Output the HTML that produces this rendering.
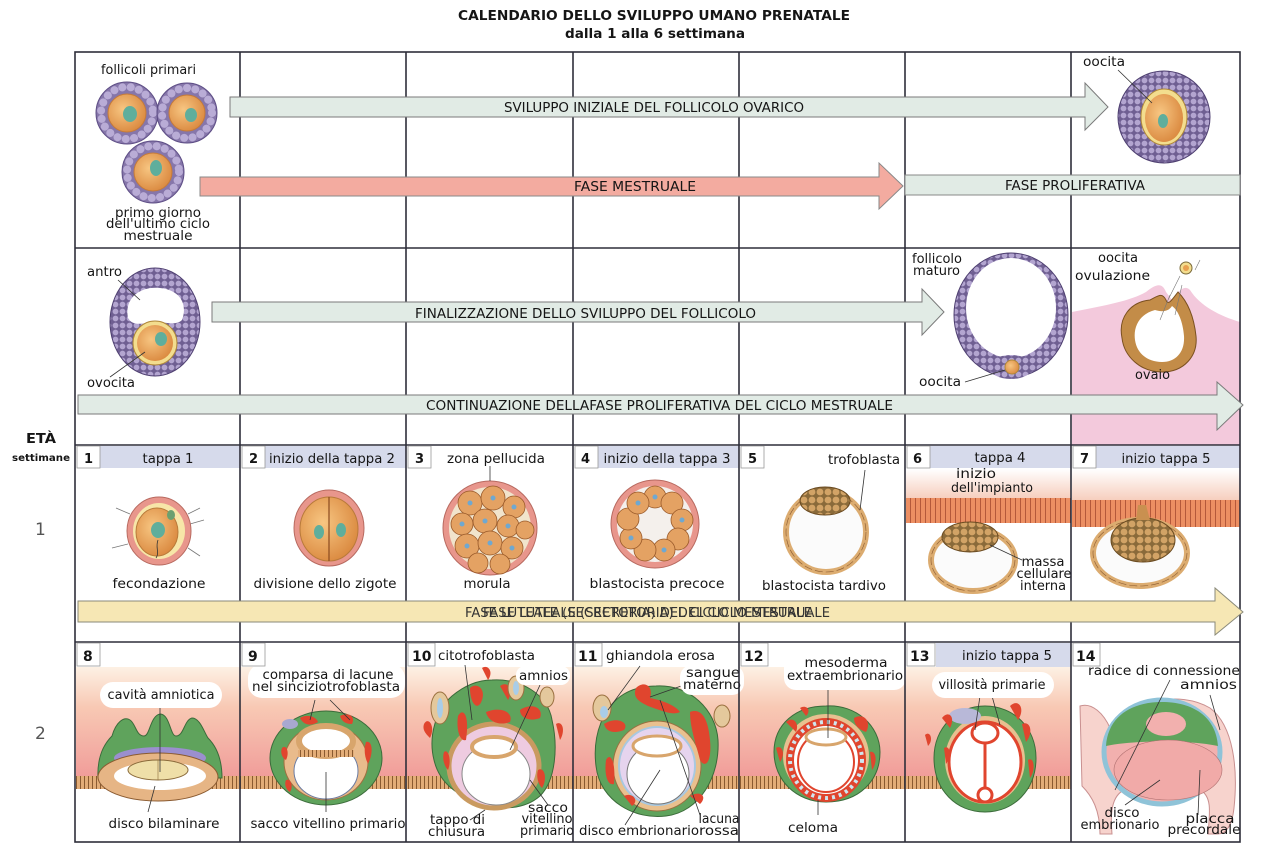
<!DOCTYPE html>
<html><head><meta charset="utf-8">
<style>
html,body{margin:0;padding:0;background:#fff;}
svg{display:block;}
text{font-family:"DejaVu Sans","Liberation Sans",sans-serif;font-size:13px;fill:#151515;}
.b{font-weight:bold;}
.ln{stroke:#333;stroke-width:0.8;fill:none;}
</style></head><body>
<svg width="1276" height="850" viewBox="0 0 1276 850" xmlns="http://www.w3.org/2000/svg">
<defs>
 <pattern id="gran" width="7" height="7" patternUnits="userSpaceOnUse">
   <rect width="7" height="7" fill="#6f5f92"/>
   <circle cx="3.5" cy="3.5" r="2.9" fill="#b3a5d0"/>
 </pattern>
 <pattern id="endo" width="5" height="40" patternUnits="userSpaceOnUse">
   <rect width="5" height="40" fill="#ec8e62"/>
   <rect width="1" height="40" fill="#b4583a"/>
   <circle cx="2.8" cy="14" r="1" fill="#6aa070"/>
 </pattern>
 <pattern id="epi" width="4" height="20" patternUnits="userSpaceOnUse">
   <rect width="4" height="20" fill="#e3ad78"/>
   <rect width="1" height="20" fill="#8a5a30"/>
 </pattern>
 <pattern id="icm" width="8" height="8" patternUnits="userSpaceOnUse">
   <rect width="8" height="8" fill="#8a6a3a"/>
   <circle cx="4" cy="4" r="3.4" fill="#d2a366"/>
 </pattern>
 <linearGradient id="pinkbg" x1="0" y1="0" x2="0" y2="1">
   <stop offset="0" stop-color="#fdf1e4"/>
   <stop offset="0.35" stop-color="#f8c9b4"/>
   <stop offset="1" stop-color="#f09a98"/>
 </linearGradient>
 <linearGradient id="topw" x1="0" y1="0" x2="0" y2="1">
   <stop offset="0" stop-color="#ffffff"/>
   <stop offset="1" stop-color="#f6cdbc"/>
 </linearGradient>
 <radialGradient id="oo" cx="0.4" cy="0.4" r="0.7">
   <stop offset="0" stop-color="#f7c682"/>
   <stop offset="1" stop-color="#d8843a"/>
 </radialGradient>
</defs>

<!-- Title -->
<text x="458" y="20" class="b" textLength="392" lengthAdjust="spacingAndGlyphs">CALENDARIO DELLO SVILUPPO UMANO PRENATALE</text>
<text x="565" y="38" class="b" textLength="180" lengthAdjust="spacingAndGlyphs">dalla 1 alla 6 settimana</text>

<!-- Left labels -->
<text x="26" y="443" class="b" textLength="30" lengthAdjust="spacingAndGlyphs">ETÀ</text>
<text x="12" y="461" class="b" style="font-size:10px" textLength="58" lengthAdjust="spacingAndGlyphs">settimane</text>
<text x="35" y="535" style="font-size:17px;fill:#555">1</text>
<text x="35" y="739" style="font-size:17px;fill:#555">2</text>

<!-- ===== Row B cell 7 pink ovary background ===== -->
<path d="M1072 312 C1100 306 1128 302 1146 292 C1156 284 1162 282 1166 292 L1172 300 C1178 292 1184 284 1190 290 C1200 306 1220 316 1240 322 V445 H1072 Z" fill="#f3c9dc"/>

<!-- ===== Week 1 headers ===== -->
<rect x="100" y="446" width="140" height="22" fill="#d6daeb"/>
<rect x="265" y="446" width="141" height="22" fill="#d6daeb"/>
<rect x="598" y="446" width="141" height="22" fill="#d6daeb"/>
<rect x="930" y="446" width="141" height="22" fill="#d6daeb"/>
<rect x="1096" y="446" width="144" height="22" fill="#d6daeb"/>

<!-- Week 1 cell 6/7 implantation background -->
<rect x="906" y="469" width="165" height="30" fill="url(#topw)"/>
<rect x="906" y="498" width="165" height="25" fill="url(#endo)"/>
<rect x="1072" y="469" width="168" height="32" fill="url(#topw)"/>
<rect x="1072" y="500" width="168" height="27" fill="url(#endo)"/>

<!-- ===== Week 2 backgrounds ===== -->
<rect x="76" y="667" width="995" height="114" fill="url(#pinkbg)"/>
<rect x="76" y="776" width="995" height="13" fill="url(#epi)"/>
<rect x="936" y="643" width="135" height="24" fill="#d6daeb"/>

<!-- ===== Row A figures ===== -->
<g>
 <circle cx="127" cy="113" r="31" fill="#8676aa" stroke="#5d4d85"/>
 <circle cx="127" cy="113" r="26" fill="none" stroke="#b9acd6" stroke-width="8" stroke-dasharray="0.1 8.3" stroke-linecap="round"/>
 <circle cx="127" cy="113" r="19" fill="url(#oo)" stroke="#c47a3a"/>
 <ellipse cx="130" cy="114" rx="7" ry="8" fill="#5fae9c"/>
 <circle cx="187" cy="113" r="30" fill="#8676aa" stroke="#5d4d85"/>
 <circle cx="187" cy="113" r="25" fill="none" stroke="#b9acd6" stroke-width="8" stroke-dasharray="0.1 8.3" stroke-linecap="round"/>
 <circle cx="187" cy="113" r="18" fill="url(#oo)" stroke="#c47a3a"/>
 <ellipse cx="191" cy="115" rx="6" ry="7" fill="#5fae9c"/>
 <circle cx="153" cy="172" r="31" fill="#8676aa" stroke="#5d4d85"/>
 <circle cx="153" cy="172" r="26" fill="none" stroke="#b9acd6" stroke-width="8" stroke-dasharray="0.1 8.3" stroke-linecap="round"/>
 <circle cx="153" cy="172" r="19" fill="url(#oo)" stroke="#c47a3a"/>
 <ellipse cx="156" cy="168" rx="6" ry="8" fill="#5fae9c"/>
</g>
<text x="101" y="74" textLength="95" lengthAdjust="spacingAndGlyphs">follicoli primari</text>
<text x="158" y="217" text-anchor="middle" textLength="86" lengthAdjust="spacingAndGlyphs">primo giorno</text>
<text x="158" y="228" text-anchor="middle" textLength="104" lengthAdjust="spacingAndGlyphs">dell'ultimo ciclo</text>
<text x="158" y="240" text-anchor="middle" textLength="69" lengthAdjust="spacingAndGlyphs">mestruale</text>

<!-- big follicle cell 7 row A -->
<ellipse cx="1164" cy="117" rx="46" ry="46" fill="url(#gran)" stroke="#4e3f70"/>
<ellipse cx="1164" cy="117" rx="23" ry="28" fill="#f3dd8e" stroke="#b0883a"/>
<ellipse cx="1164" cy="118" rx="19" ry="24" fill="url(#oo)"/>
<ellipse cx="1163" cy="121" rx="5" ry="7" fill="#5fae9c"/>
<path class="ln" d="M1118 70 L1152 103"/>
<text x="1083" y="66" textLength="42" lengthAdjust="spacingAndGlyphs">oocita</text>

<!-- ===== Row B figures ===== -->
<ellipse cx="155" cy="322" rx="45" ry="54" fill="url(#gran)" stroke="#4e3f70"/>
<path d="M128 318 C124 298 140 286 160 288 C180 290 188 304 182 320 C176 326 166 322 155 322 C145 322 134 328 128 318 Z" fill="#fff"/>
<ellipse cx="155" cy="343" rx="22" ry="22" fill="#f3dd8e" stroke="#b0883a"/>
<ellipse cx="155" cy="343" rx="18" ry="18" fill="url(#oo)"/>
<ellipse cx="161" cy="339" rx="6" ry="7" fill="#5fae9c"/>
<path class="ln" d="M118 280 L140 300"/>
<path class="ln" d="M110 377 L145 352"/>
<text x="87" y="276" textLength="35" lengthAdjust="spacingAndGlyphs">antro</text>
<text x="87" y="387" textLength="48" lengthAdjust="spacingAndGlyphs">ovocita</text>

<!-- mature follicle -->
<ellipse cx="1011" cy="315" rx="57" ry="62" fill="url(#gran)" stroke="#4e3f70"/>
<ellipse cx="1011" cy="308" rx="45" ry="50" fill="#fff"/>
<ellipse cx="1011" cy="367" rx="22" ry="12" fill="url(#gran)"/>
<circle cx="1012" cy="367" r="7" fill="url(#oo)" stroke="#b0883a"/>
<path class="ln" d="M965 382 L1005 370"/>
<text x="912" y="263" textLength="50" lengthAdjust="spacingAndGlyphs">follicolo</text>
<text x="913" y="275" textLength="47" lengthAdjust="spacingAndGlyphs">maturo</text>
<text x="919" y="386" textLength="42" lengthAdjust="spacingAndGlyphs">oocita</text>

<!-- ovulation -->
<path d="M1150 300 C1130 302 1118 318 1122 338 C1124 356 1140 372 1162 372 C1184 372 1198 356 1196 336 C1194 318 1188 302 1178 292 C1172 300 1168 306 1166 300 C1162 292 1158 296 1150 300 Z" fill="#c38c48" stroke="#7a5020"/>
<path d="M1155 310 C1140 314 1133 326 1135 340 C1137 354 1148 362 1162 362 C1176 362 1185 352 1184 336 C1183 322 1178 310 1172 306 C1168 312 1162 312 1155 310 Z" fill="#fff"/>
<circle cx="1186" cy="268" r="6" fill="#f3dd8e" stroke="#7a6a3a"/>
<circle cx="1186" cy="268" r="3" fill="#e8a050"/>
<path d="M1168 300 L1180 276 M1160 320 L1170 295 M1175 315 L1182 285 M1195 270 L1200 260" stroke="#777" stroke-width="0.6" fill="none"/>
<text x="1098" y="262" textLength="40" lengthAdjust="spacingAndGlyphs">oocita</text>
<text x="1075" y="280" textLength="75" lengthAdjust="spacingAndGlyphs">ovulazione</text>
<text x="1135" y="379" textLength="35" lengthAdjust="spacingAndGlyphs">ovaio</text>

<!-- ===== Week 1 figures ===== -->
<!-- cell 1 zygote -->
<path d="M116 508 L130 514 M112 548 L128 544 M200 508 L188 514 M204 520 L190 524 M200 556 L188 548 M172 500 L170 508" stroke="#777" stroke-width="0.8"/>
<ellipse cx="159" cy="531" rx="32" ry="34" fill="#e8968c" stroke="#b86a60"/>
<ellipse cx="159" cy="531" rx="26" ry="28" fill="#f7e6a8"/>
<ellipse cx="157" cy="532" rx="21" ry="24" fill="url(#oo)" stroke="#b87a3a"/>
<ellipse cx="158" cy="530" rx="7" ry="8" fill="#5fae9c"/>
<ellipse cx="171" cy="515" rx="4" ry="5" fill="#6aa070"/>
<path d="M158 540 C155 548 160 552 156 558" stroke="#333" stroke-width="0.8" fill="none"/>
<text x="159" y="588" text-anchor="middle" textLength="93" lengthAdjust="spacingAndGlyphs">fecondazione</text>

<!-- cell 2 two-cell -->
<ellipse cx="329" cy="528" rx="35" ry="38" fill="#e8968c" stroke="#b86a60"/>
<ellipse cx="329" cy="529" rx="29" ry="32" fill="url(#oo)" stroke="#b87a3a"/>
<line x1="329" y1="497" x2="329" y2="561" stroke="#8a4a20" stroke-width="1.2"/>
<ellipse cx="319" cy="532" rx="5" ry="7" fill="#5fae9c"/>
<ellipse cx="341" cy="530" rx="5" ry="7" fill="#5fae9c"/>
<text x="325" y="588" text-anchor="middle" textLength="143" lengthAdjust="spacingAndGlyphs">divisione dello zigote</text>

<!-- cell 3 morula -->
<circle cx="490" cy="528" r="47" fill="#e8968c" stroke="#b86a60"/>
<circle cx="490" cy="528" r="41" fill="#f1e4cc"/>
<g fill="#e4a263" stroke="#9a5a2a" stroke-width="0.8">
 <circle cx="470" cy="503" r="12"/><circle cx="493" cy="498" r="12"/><circle cx="514" cy="507" r="11"/>
 <circle cx="462" cy="524" r="11"/><circle cx="485" cy="521" r="12"/><circle cx="508" cy="526" r="11"/>
 <circle cx="525" cy="530" r="9"/><circle cx="467" cy="546" r="12"/><circle cx="490" cy="543" r="12"/>
 <circle cx="512" cy="548" r="11"/><circle cx="478" cy="563" r="10"/><circle cx="500" cy="564" r="10"/>
</g>
<g fill="#6fa8d0">
 <circle cx="470" cy="503" r="2.5"/><circle cx="493" cy="498" r="2.5"/><circle cx="514" cy="507" r="2.5"/>
 <circle cx="462" cy="524" r="2.5"/><circle cx="485" cy="521" r="2.5"/><circle cx="508" cy="526" r="2.5"/>
 <circle cx="467" cy="546" r="2.5"/><circle cx="490" cy="543" r="2.5"/><circle cx="512" cy="548" r="2.5"/>
</g>
<line x1="490" y1="466" x2="490" y2="481" class="ln"/>
<text x="496" y="463" text-anchor="middle" textLength="98" lengthAdjust="spacingAndGlyphs">zona pellucida</text>
<text x="487" y="588" text-anchor="middle" textLength="47" lengthAdjust="spacingAndGlyphs">morula</text>

<!-- cell 4 early blastocyst -->
<circle cx="655" cy="524" r="44" fill="#e8968c" stroke="#b86a60"/>
<circle cx="655" cy="524" r="38" fill="#f4f0ec"/>
<g fill="#e4a263" stroke="#9a5a2a" stroke-width="0.8">
 <circle cx="655" cy="497" r="11"/><circle cx="672" cy="503" r="11"/><circle cx="682" cy="520" r="11"/>
 <circle cx="678" cy="539" r="11"/><circle cx="664" cy="550" r="11"/><circle cx="645" cy="550" r="11"/>
 <circle cx="631" cy="538" r="11"/><circle cx="628" cy="519" r="11"/><circle cx="638" cy="503" r="11"/>
</g>
<g fill="#6fa8d0">
 <circle cx="655" cy="497" r="2.5"/><circle cx="682" cy="520" r="2.5"/><circle cx="664" cy="550" r="2.5"/><circle cx="631" cy="538" r="2.5"/><circle cx="638" cy="503" r="2.5"/>
</g>
<text x="657" y="588" text-anchor="middle" textLength="135" lengthAdjust="spacingAndGlyphs">blastocista precoce</text>

<!-- cell 5 late blastocyst -->
<ellipse cx="826" cy="532" rx="40" ry="40" fill="#fbfbfb" stroke="#dcac70" stroke-width="6"/>
<ellipse cx="826" cy="532" rx="40" ry="40" fill="none" stroke="#8a5a30" stroke-width="0.6" stroke-dasharray="8 3"/>
<ellipse cx="825" cy="501" rx="25" ry="14" fill="url(#icm)" stroke="#6a4a20"/>
<path class="ln" d="M865 470 L860 510"/>
<text x="828" y="464" textLength="72" lengthAdjust="spacingAndGlyphs">trofoblasta</text>
<text x="824" y="590" text-anchor="middle" textLength="124" lengthAdjust="spacingAndGlyphs">blastocista tardivo</text>

<!-- cell 6 implantation -->
<ellipse cx="973" cy="560" rx="42" ry="31" fill="#fbfbfb" stroke="#dcac70" stroke-width="6"/>
<ellipse cx="973" cy="560" rx="42" ry="31" fill="none" stroke="#8a5a30" stroke-width="0.6" stroke-dasharray="8 3"/>
<ellipse cx="970" cy="537" rx="28" ry="15" fill="url(#icm)" stroke="#6a4a20"/>
<path class="ln" d="M990 545 L1022 560"/>
<text x="976" y="478" text-anchor="middle" textLength="40" lengthAdjust="spacingAndGlyphs">inizio</text>
<text x="992" y="492" text-anchor="middle" textLength="82" lengthAdjust="spacingAndGlyphs">dell'impianto</text>
<text x="1043" y="566" text-anchor="middle" textLength="43" lengthAdjust="spacingAndGlyphs">massa</text>
<text x="1044" y="578" text-anchor="middle" textLength="55" lengthAdjust="spacingAndGlyphs">cellulare</text>
<text x="1043" y="590" text-anchor="middle" textLength="46" lengthAdjust="spacingAndGlyphs">interna</text>

<!-- cell 7 -->
<ellipse cx="1140" cy="553" rx="47" ry="33" fill="#fbfbfb" stroke="#dcac70" stroke-width="6"/>
<ellipse cx="1140" cy="553" rx="47" ry="33" fill="none" stroke="#8a5a30" stroke-width="0.6" stroke-dasharray="8 3"/>
<ellipse cx="1143" cy="540" rx="32" ry="22" fill="url(#icm)" stroke="#6a4a20"/>
<path d="M1136 520 L1138 505 L1146 505 L1150 520 Z" fill="#c99050"/>

<!-- ===== Week 2 figures ===== -->
<!-- cell 8 -->
<path d="M98 778 C97 756 104 744 112 736 C116 722 124 716 130 720 C136 724 136 736 144 736 C150 736 150 716 160 714 C170 714 170 736 176 736 C184 736 184 720 192 718 C200 718 204 732 208 738 C216 746 222 758 222 778 Z" fill="#5fa35c" stroke="#3b6b3a"/>
<ellipse cx="160" cy="758" rx="46" ry="11" fill="#9b8fcf"/>
<ellipse cx="158" cy="777" rx="60" ry="24" fill="#e6b585" stroke="#8a5a30"/>
<ellipse cx="160" cy="776" rx="46" ry="14" fill="#fff"/>
<ellipse cx="158" cy="770" rx="30" ry="10" fill="#efdfa8" stroke="#8a6a3a"/>
<line x1="158" y1="760" x2="158" y2="780" stroke="#8a6a3a" stroke-width="0.6"/>
<path class="ln" d="M160 706 L160 772 M155 786 L148 812"/>
<rect x="100" y="682" width="122" height="26" rx="13" fill="#fff"/>
<text x="161" y="699" text-anchor="middle" textLength="107" lengthAdjust="spacingAndGlyphs">cavità amniotica</text>
<text x="164" y="828" text-anchor="middle" textLength="111" lengthAdjust="spacingAndGlyphs">disco bilaminare</text>

<!-- cell 9 -->
<ellipse cx="326" cy="758" rx="56" ry="47" fill="#5fa35c" stroke="#3b6b3a"/>
<ellipse cx="326" cy="762" rx="42" ry="38" fill="#e9bb8c" stroke="#a07040"/>
<ellipse cx="326" cy="771" rx="32" ry="28" fill="#fff" stroke="#6a7aa0"/>
<ellipse cx="326" cy="741" rx="27" ry="15" fill="#fff" stroke="#d8a56c" stroke-width="6"/>
<rect x="298" y="750" width="56" height="7" fill="url(#epi)"/>
<g fill="#e0452e">
 <path d="M300 718 C306 714 316 716 318 722 C312 726 304 726 300 718 Z"/>
 <path d="M340 716 C348 712 356 716 352 724 C346 724 342 722 340 716 Z"/>
 <path d="M282 748 C286 744 290 752 286 760 C282 758 280 752 282 748 Z"/>
 <path d="M366 742 C372 740 374 752 368 764 C364 756 364 748 366 742 Z"/>
 <path d="M286 780 C290 778 294 786 290 792 C286 790 284 784 286 780 Z"/>
</g>
<ellipse cx="290" cy="724" rx="8" ry="5" fill="#a8a8d0"/>
<path class="ln" d="M315 700 L310 720 M330 700 L350 720 M326 772 L326 812"/>
<rect x="248" y="664" width="157" height="34" rx="14" fill="#fff"/>
<text x="328" y="679" text-anchor="middle" textLength="131" lengthAdjust="spacingAndGlyphs">comparsa di lacune</text>
<text x="326" y="691" text-anchor="middle" textLength="148" lengthAdjust="spacingAndGlyphs">nel sinciziotrofoblasta</text>
<text x="328" y="828" text-anchor="middle" textLength="155" lengthAdjust="spacingAndGlyphs">sacco vitellino primario</text>

<!-- cell 10 -->
<path d="M492 680 C520 678 548 694 552 720 C558 746 556 780 540 796 C524 810 500 810 484 804 C462 798 440 786 434 760 C428 736 436 710 452 696 C464 686 478 680 492 680 Z" fill="#5fa35c" stroke="#3b6b3a"/>
<ellipse cx="494" cy="766" rx="45" ry="42" fill="#eecbe0" stroke="#c99a60" stroke-width="5"/>
<ellipse cx="496" cy="774" rx="34" ry="31" fill="#fff" stroke="#888"/>
<ellipse cx="494" cy="747" rx="22" ry="10" fill="#fff" stroke="#d8a56c" stroke-width="4"/>
<g fill="#e0452e">
 <path d="M470 688 C476 682 486 688 482 700 C478 712 470 704 470 688 Z"/>
 <path d="M500 686 C508 680 514 690 508 700 Z"/>
 <path d="M520 710 C532 702 544 708 540 718 C530 722 520 718 520 710 Z"/>
 <path d="M458 716 C462 708 470 712 466 740 C460 742 456 730 458 716 Z"/>
 <path d="M486 712 C500 706 514 712 510 722 C500 726 488 722 486 712 Z"/>
 <path d="M444 752 C448 748 452 760 448 770 C444 766 442 758 444 752 Z"/>
 <path d="M538 770 C544 766 548 778 542 788 C538 784 536 776 538 770 Z"/>
 <path d="M424 724 C428 716 436 726 430 738 C426 734 422 730 424 724 Z"/>
 <path d="M556 724 C562 720 566 730 560 740 Z"/>
 <path d="M482 668 C488 664 494 672 488 680 Z"/>
</g>
<ellipse cx="440" cy="708" rx="9" ry="16" fill="#e4c89c" stroke="#9a7040"/>
<ellipse cx="440" cy="708" rx="3" ry="10" fill="#a9cde8"/>
<ellipse cx="516" cy="688" rx="8" ry="12" fill="#e4c89c" stroke="#9a7040"/>
<ellipse cx="516" cy="688" rx="3" ry="7" fill="#a9cde8"/>
<ellipse cx="547" cy="697" rx="7" ry="10" fill="#e4c89c" stroke="#9a7040"/>
<path class="ln" d="M465 665 L472 720 M540 685 L510 750 M485 810 L470 820 M530 780 L548 805"/>
<text x="438" y="660" textLength="97" lengthAdjust="spacingAndGlyphs">citotrofoblasta</text>
<rect x="516" y="666" width="54" height="19" rx="9" fill="#fff"/>
<text x="519" y="680" textLength="49" lengthAdjust="spacingAndGlyphs">amnios</text>
<text x="430" y="824" textLength="55" lengthAdjust="spacingAndGlyphs">tappo di</text>
<text x="428" y="836" textLength="57" lengthAdjust="spacingAndGlyphs">chiusura</text>
<text x="548" y="812" text-anchor="middle" textLength="40" lengthAdjust="spacingAndGlyphs">sacco</text>
<text x="547" y="823" text-anchor="middle" textLength="51" lengthAdjust="spacingAndGlyphs">vitellino</text>
<text x="547" y="835" text-anchor="middle" textLength="54" lengthAdjust="spacingAndGlyphs">primario</text>

<!-- cell 11 -->
<path d="M656 686 C690 684 716 710 718 740 C720 776 700 812 666 816 C636 820 600 802 596 766 C592 734 604 706 624 694 C634 688 646 686 656 686 Z" fill="#5fa35c" stroke="#3b6b3a"/>
<ellipse cx="657" cy="766" rx="44" ry="45" fill="#e9c08e" stroke="#9a7040" stroke-width="1"/>
<ellipse cx="657" cy="766" rx="38" ry="39" fill="#e6d4ee" stroke="#a8c8e0" stroke-width="2"/>
<ellipse cx="658" cy="774" rx="31" ry="30" fill="#fff" stroke="#777"/>
<ellipse cx="657" cy="746" rx="24" ry="10" fill="#fff" stroke="#d8a56c" stroke-width="3"/>
<g fill="#e0452e">
 <path d="M636 688 C644 680 654 686 650 698 C660 700 674 704 680 712 C672 716 660 710 648 706 C640 702 632 698 636 688 Z"/>
 <path d="M604 724 C616 716 630 722 624 730 C614 734 606 732 604 724 Z"/>
 <path d="M690 712 C700 708 708 716 710 740 C712 760 706 770 700 760 C696 744 690 728 690 712 Z"/>
 <path d="M606 760 C610 752 616 760 614 784 C608 786 604 776 606 760 Z"/>
 <path d="M624 796 C632 792 640 800 632 806 Z"/>
 <path d="M690 796 C700 790 708 796 700 804 Z"/>
</g>
<ellipse cx="602" cy="708" rx="9" ry="13" fill="#e4c89c" stroke="#9a7040"/>
<ellipse cx="604" cy="712" rx="4" ry="6" fill="#a9cde8"/>
<ellipse cx="722" cy="716" rx="8" ry="11" fill="#e4c89c" stroke="#9a7040"/>
<path class="ln" d="M640 666 L608 710 M684 685 L650 697 M660 700 L700 815 M660 770 L625 825"/>
<text x="606" y="660" textLength="109" lengthAdjust="spacingAndGlyphs">ghiandola erosa</text>
<rect x="680" y="665" width="64" height="30" rx="12" fill="#fff"/>
<text x="713" y="677" text-anchor="middle" textLength="54" lengthAdjust="spacingAndGlyphs">sangue</text>
<text x="712" y="689" text-anchor="middle" textLength="58" lengthAdjust="spacingAndGlyphs">materno</text>
<text x="579" y="835" textLength="120" lengthAdjust="spacingAndGlyphs">disco embrionario</text>
<text x="719" y="823" text-anchor="middle" textLength="41" lengthAdjust="spacingAndGlyphs">lacuna</text>
<text x="719" y="835" text-anchor="middle" textLength="40" lengthAdjust="spacingAndGlyphs">rossa</text>

<!-- cell 12 -->
<path d="M826 706 C856 704 880 726 880 752 C880 780 860 802 826 802 C796 802 774 780 774 752 C774 724 796 706 826 706 Z" fill="#5fa35c" stroke="#3b6b3a"/>
<ellipse cx="826" cy="756" rx="43" ry="42" fill="#e8c090"/>
<ellipse cx="826" cy="760" rx="36" ry="38" fill="#fff" stroke="#e0452e" stroke-width="8"/>
<ellipse cx="826" cy="760" rx="36" ry="38" fill="none" stroke="#cfe6ef" stroke-width="4" stroke-dasharray="3 4"/>
<ellipse cx="826" cy="762" rx="28" ry="30" fill="#fff" stroke="#e0452e" stroke-width="2"/>
<ellipse cx="826" cy="737" rx="20" ry="8" fill="#fff" stroke="#d8a56c" stroke-width="3"/>
<g fill="#e0452e">
 <path d="M786 722 C792 716 800 722 796 732 Z"/>
 <path d="M854 718 C864 712 872 722 866 732 C860 730 854 726 854 718 Z"/>
 <path d="M776 748 C782 744 786 754 780 762 Z"/>
 <path d="M870 752 C876 750 878 762 872 770 Z"/>
 <path d="M800 708 C806 704 812 710 806 716 Z"/>
</g>
<path class="ln" d="M828 682 L828 738 M818 800 L818 815"/>
<rect x="784" y="656" width="122" height="34" rx="12" fill="#fff"/>
<text x="846" y="667" text-anchor="middle" textLength="83" lengthAdjust="spacingAndGlyphs">mesoderma</text>
<text x="845" y="680" text-anchor="middle" textLength="116" lengthAdjust="spacingAndGlyphs">extraembrionario</text>
<text x="788" y="832" textLength="50" lengthAdjust="spacingAndGlyphs">celoma</text>

<!-- cell 13 -->
<path d="M985 706 C1014 706 1036 728 1036 758 C1036 790 1014 812 985 812 C956 812 934 790 934 758 C934 728 956 706 985 706 Z" fill="#5fa35c" stroke="#3b6b3a"/>
<ellipse cx="985" cy="760" rx="40" ry="44" fill="#e8c090"/>
<ellipse cx="985" cy="762" rx="36" ry="40" fill="#fff" stroke="#e0452e" stroke-width="3"/>
<ellipse cx="965" cy="716" rx="16" ry="8" fill="#b8b8d8"/>
<line x1="985" y1="738" x2="985" y2="790" stroke="#e0452e" stroke-width="3"/>
<ellipse cx="985" cy="733" rx="13" ry="10" fill="#fff" stroke="#e0452e" stroke-width="3"/>
<circle cx="985" cy="795" r="7" fill="#fff" stroke="#e0452e" stroke-width="3"/>
<g fill="#e0452e">
 <path d="M942 718 C948 710 956 716 950 728 Z"/>
 <path d="M1010 706 C1018 698 1026 708 1018 720 Z"/>
 <path d="M1022 724 C1030 720 1034 732 1026 742 Z"/>
 <path d="M944 748 C950 744 952 756 946 764 Z"/>
 <path d="M1028 760 C1034 756 1036 770 1030 778 Z"/>
 <path d="M925 735 C930 730 934 740 928 746 Z"/>
</g>
<path class="ln" d="M980 696 L975 730 M992 696 L1000 725"/>
<text x="1007" y="660" text-anchor="middle" textLength="90" lengthAdjust="spacingAndGlyphs">inizio tappa 5</text>
<rect x="932" y="672" width="122" height="26" rx="13" fill="#fff"/>
<text x="992" y="689" text-anchor="middle" textLength="107" lengthAdjust="spacingAndGlyphs">villosità primarie</text>

<!-- cell 14 -->
<path d="M1080 706 C1092 702 1104 714 1110 728 C1130 700 1180 690 1210 708 C1234 726 1238 770 1234 808 C1232 826 1226 834 1218 834 L1208 834 C1210 812 1212 796 1200 790 L1124 790 C1112 796 1110 812 1112 834 L1100 834 C1100 810 1092 796 1082 786 Z" fill="#f7d3cd" stroke="#c99090"/>
<ellipse cx="1162" cy="752" rx="58" ry="52" fill="#f2b0ae" stroke="#8fc3d8" stroke-width="5"/>
<path d="M1106 746 C1108 716 1132 702 1162 702 C1192 702 1216 716 1218 746 C1190 740 1134 740 1106 746 Z" fill="#5fa35c"/>
<ellipse cx="1166" cy="724" rx="20" ry="12" fill="#f2b0ae"/>
<ellipse cx="1168" cy="770" rx="54" ry="30" fill="#f1aaa8" stroke="#b07070" stroke-width="0.6"/>
<path class="ln" d="M1170 680 L1115 790 M1210 695 L1220 730 M1125 805 L1160 780 M1198 815 L1200 770"/>
<text x="1088" y="675" textLength="152" lengthAdjust="spacingAndGlyphs">radice di connessione</text>
<text x="1180" y="689" textLength="57" lengthAdjust="spacingAndGlyphs">amnios</text>
<text x="1122" y="817" text-anchor="middle" textLength="35" lengthAdjust="spacingAndGlyphs">disco</text>
<text x="1120" y="829" text-anchor="middle" textLength="79" lengthAdjust="spacingAndGlyphs">embrionario</text>
<text x="1210" y="823" text-anchor="middle" textLength="49" lengthAdjust="spacingAndGlyphs">placca</text>
<text x="1204" y="834" text-anchor="middle" textLength="73" lengthAdjust="spacingAndGlyphs">precordale</text>

<!-- ===== Grid lines ===== -->
<g stroke="#2e2e3a" stroke-width="1.6" fill="none">
 <rect x="75" y="52" width="1165" height="790"/>
 <line x1="240" y1="52" x2="240" y2="842"/>
 <line x1="406" y1="52" x2="406" y2="842"/>
 <line x1="573" y1="52" x2="573" y2="842"/>
 <line x1="739" y1="52" x2="739" y2="842"/>
 <line x1="905" y1="52" x2="905" y2="842"/>
 <line x1="1071" y1="52" x2="1071" y2="842"/>
 <line x1="75" y1="248" x2="1240" y2="248"/>
 <line x1="75" y1="445" x2="1240" y2="445"/>
 <line x1="75" y1="642" x2="1240" y2="642"/>
</g>

<!-- number boxes week 1 -->
<g fill="#fff" stroke="#999" stroke-width="0.8">
 <rect x="77" y="446" width="23" height="22"/><rect x="242" y="446" width="23" height="22"/>
 <rect x="408" y="446" width="23" height="22"/><rect x="575" y="446" width="23" height="22"/>
 <rect x="741" y="446" width="23" height="22"/><rect x="907" y="446" width="23" height="22"/>
 <rect x="1073" y="446" width="23" height="22"/>
</g>
<g class="b">
 <text x="84" y="463" class="b">1</text><text x="249" y="463" class="b">2</text>
 <text x="415" y="463" class="b">3</text><text x="581" y="463" class="b">4</text>
 <text x="748" y="463" class="b">5</text><text x="913" y="463" class="b">6</text>
 <text x="1080" y="463" class="b">7</text>
</g>
<text x="168" y="463" text-anchor="middle" textLength="51" lengthAdjust="spacingAndGlyphs">tappa 1</text>
<text x="332" y="463" text-anchor="middle" textLength="126" lengthAdjust="spacingAndGlyphs">inizio della tappa 2</text>
<text x="667" y="463" text-anchor="middle" textLength="127" lengthAdjust="spacingAndGlyphs">inizio della tappa 3</text>
<text x="1000" y="462" text-anchor="middle" textLength="51" lengthAdjust="spacingAndGlyphs">tappa 4</text>
<text x="1166" y="463" text-anchor="middle" textLength="89" lengthAdjust="spacingAndGlyphs">inizio tappa 5</text>

<!-- number boxes week 2 -->
<g fill="#fff" stroke="#999" stroke-width="0.8">
 <rect x="77" y="643" width="23" height="23"/><rect x="242" y="643" width="23" height="23"/>
 <rect x="408" y="643" width="27" height="23"/><rect x="575" y="643" width="27" height="23"/>
 <rect x="741" y="643" width="27" height="23"/><rect x="907" y="643" width="28" height="23"/>
 <rect x="1073" y="643" width="27" height="23"/>
</g>
<text x="83" y="661" class="b" style="font-size:14px">8</text>
<text x="248" y="661" class="b" style="font-size:14px">9</text>
<text x="412" y="661" class="b" style="font-size:14px">10</text>
<text x="578" y="661" class="b" style="font-size:14px">11</text>
<text x="744" y="661" class="b" style="font-size:14px">12</text>
<text x="910" y="661" class="b" style="font-size:14px">13</text>
<text x="1076" y="661" class="b" style="font-size:14px">14</text>

<!-- ===== Bands / arrows ===== -->
<path d="M230 97 H1085 V83 L1108 107 L1085 130 V117 H230 Z" fill="#e1ebe5" stroke="#7a7a7a"/>
<text x="504" y="112" textLength="300" lengthAdjust="spacingAndGlyphs">SVILUPPO INIZIALE DEL FOLLICOLO OVARICO</text>

<path d="M200 177 H879 V163 L903 186 L879 209 V196 H200 Z" fill="#f3aba0" stroke="#888"/>
<text x="574" y="191" textLength="122" lengthAdjust="spacingAndGlyphs">FASE MESTRUALE</text>

<rect x="905" y="175" width="335" height="20" fill="#e1ebe5" stroke="#888"/>
<text x="1005" y="190" textLength="140" lengthAdjust="spacingAndGlyphs">FASE PROLIFERATIVA</text>

<path d="M212 302 H922 V289 L944 312 L922 335 V322 H212 Z" fill="#e1ebe5" stroke="#7a7a7a"/>
<text x="415" y="318" textLength="341" lengthAdjust="spacingAndGlyphs">FINALIZZAZIONE DELLO SVILUPPO DEL FOLLICOLO</text>

<path d="M78 395 H1217 V382 L1243 405 L1217 430 V414 H78 Z" fill="#e1ebe5" stroke="#7a7a7a"/>
<text x="426" y="410" textLength="467" lengthAdjust="spacingAndGlyphs">CONTINUAZIONE DELLAFASE PROLIFERATIVA DEL CICLO MESTRUALE</text>

<path d="M78 601 H1215 V588 L1243 612 L1215 635 V622 H78 Z" fill="#f6e7b4" stroke="#8a8a7a"/>
<text x="465" y="617" textLength="347" lengthAdjust="spacingAndGlyphs" style="fill:#333">FASE LUTEALE (SECRETORIA) DEL CICLO MESTRUALE</text>
<text x="483" y="617" textLength="347" lengthAdjust="spacingAndGlyphs" style="fill:#333">FASE LUTEALE (SECRETORIA) DEL CICLO MESTRUALE</text>

</svg>
</body></html>
